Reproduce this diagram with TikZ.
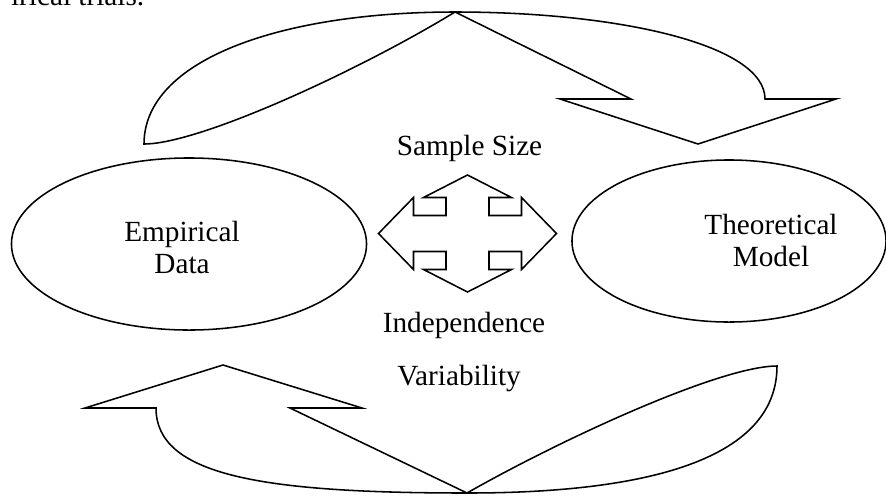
\documentclass[tikz,border=0pt]{standalone}
\usepackage{fontspec}
\setmainfont{Liberation Serif}
\usepackage{tikz}
\usetikzlibrary{shapes.geometric}

\tikzset{
    oval/.style={shape=ellipse,draw=black,inner sep=0pt},
    word/.style={font=\fontsize{20.8}{23}\selectfont,inner sep=0pt,align=center},
    block/.style={draw=black,line width=1.1pt,line join=miter}
}

\begin{document}
\begin{tikzpicture}[x=0.025cm,y=-0.025cm,line width=1.1pt]

        \useasboundingbox (0,0) rectangle (886,495);

        % cut-off line of the page above
        \node[word,anchor=base east] (top) at (145,5) {irical trials.};

        \node[oval,minimum width=8.875cm,minimum height=4.3cm] (emp) at (189,244) {};
        \node[oval,minimum width=7.85cm,minimum height=4.05cm] (theo) at (729,241) {};
        \node[word] (empt) at (182,247.5) {Empirical\\Data};
        \node[word] (theot) at (771,240.5) {Theoretical\\Model};

        \node[word,anchor=base] (size) at (469.5,155) {Sample Size};
        \node[word,anchor=base] (indep) at (464,332) {Independence};
        \node[word,anchor=base] (var) at (459,385) {Variability};

        % upper curved arrow
        \draw[block] (144,144) .. controls (144,60) and (280,12) .. (455,12)
            .. controls (620,12) and (765,45) .. (765,99) -- (836,99) -- (698,144)
            -- (560,99) -- (631,99) -- (455,12)
            .. controls (360,70) and (200,144) .. (144,144) -- cycle;

        % lower curved arrow
        \draw[block] (777,366) .. controls (777,475) and (600,493) .. (467,493)
            .. controls (260,493) and (156,475) .. (156,408) -- (85,408) -- (223,365)
            -- (362,408) -- (290,408) -- (467,493)
            .. controls (560,440) and (720,366) .. (777,366) -- cycle;

        % four-way arrow
        \draw[block] (467.5,175) -- (511.5,197.5) -- (489,197.5) -- (489,215.5)
            -- (521.5,215.5) -- (521.5,197.5) -- (556.5,233.5) -- (521.5,269.5)
            -- (521.5,251.5) -- (489,251.5) -- (489,269.5) -- (511.5,269.5)
            -- (467.5,292) -- (423.5,269.5) -- (446,269.5) -- (446,251.5)
            -- (413.5,251.5) -- (413.5,269.5) -- (378.5,233.5) -- (413.5,197.5)
            -- (413.5,215.5) -- (446,215.5) -- (446,197.5) -- (423.5,197.5) -- cycle;

\end{tikzpicture}
\end{document}
